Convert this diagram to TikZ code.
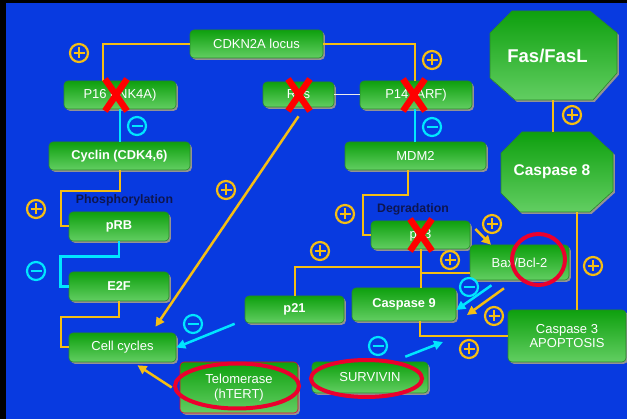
\documentclass[tikz,border=0pt]{standalone}
\usepackage{fontspec}
\setmainfont{Liberation Sans}
\usetikzlibrary{shadows,arrows.meta}
\definecolor{bgblue}{RGB}{8,58,224}
\definecolor{ylw}{RGB}{245,190,20}
\definecolor{cyn}{RGB}{0,230,255}
\definecolor{gtop}{RGB}{14,160,14}
\definecolor{gbot}{RGB}{98,206,98}
\definecolor{gedge}{RGB}{40,135,40}
\definecolor{xred}{RGB}{255,0,0}
\definecolor{ered}{RGB}{235,0,45}
\definecolor{navy}{RGB}{14,22,80}
\tikzset{
  gbox/.style={rounded corners=4pt, top color=gtop, bottom color=gbot, draw=gedge,
    line width=0.6pt, text=white, font=\fontsize{13}{14.5}\selectfont, align=center,
    inner sep=0pt,
    drop shadow={shadow xshift=1.8pt, shadow yshift=-1.8pt, fill=gray!85, opacity=1}},
  bfont/.style={font=\bfseries\fontsize{12.8}{14.5}\selectfont},
  octo/.style={top color=gtop, bottom color=gbot, draw=gedge, line width=0.6pt},
  octoshadow/.style={fill=gray!85},
  ghost/.style={inner sep=0pt, text=white},
  yl/.style={draw=ylw, line width=2pt},
  cy/.style={draw=cyn, line width=2.5pt},
  wl/.style={draw=white!85!gray, line width=1.5pt},
  yarr/.style={draw=ylw, line width=2.5pt, -{Triangle[length=9pt,width=9pt]}},
  carr/.style={draw=cyn, line width=2.5pt, -{Triangle[length=9pt,width=9pt]}},
  redx/.style={draw=xred, line width=6.5pt},
  redring/.style={draw=ered, line width=4pt},
  plussign/.pic={\draw[ylw, line width=2.2pt] (0,0) circle (9pt);
                 \draw[ylw, line width=2.2pt] (-5.5,0) -- (5.5,0) (0,-5.5) -- (0,5.5);},
  minussign/.pic={\draw[cyn, line width=2.2pt] (0,0) circle (9pt);
                  \draw[cyn, line width=2.6pt] (-5.5,0) -- (5.5,0);},
  lbl/.style={text=navy, font=\bfseries\fontsize{12.3}{14}\selectfont, inner sep=0pt}
}
\begin{document}
\begin{tikzpicture}[x=1pt,y=-1pt]
\useasboundingbox (0,0) rectangle (627,419);
\fill[black] (0,0) rectangle (627,419);
\fill[bgblue] (6,3) rectangle (627,419);

% ---------- boxes ----------
\node[gbox, minimum width=133pt, minimum height=28pt] (cdkn) at (256.5,44) {CDKN2A locus};
\node[gbox, minimum width=112pt, minimum height=28pt] (p16) at (120,95) {P16 (INK4A)};
\node[gbox, minimum width=71pt, minimum height=25pt] (ras) at (298.5,94.5) {Ras};
\node[gbox, minimum width=112pt, minimum height=28pt] (p14) at (416,95) {P14 (ARF)};
\node[gbox, bfont, minimum width=141pt, minimum height=28pt] (cyclin) at (119.5,156) {Cyclin (CDK4,6)};
\node[gbox, minimum width=141pt, minimum height=28pt] (mdm2) at (415.5,156) {MDM2};
\node[gbox, bfont, minimum width=100pt, minimum height=29pt] (prb) at (119,226.5) {pRB};
\node[gbox, bfont, minimum width=100pt, minimum height=29pt] (e2f) at (119,286.5) {E2F};
\node[gbox, minimum width=107pt, minimum height=29pt] (cell) at (122.5,347.5) {Cell cycles};
\node[gbox, minimum width=99pt, minimum height=28pt] (p53) at (420.5,235) {p53};
\node[gbox, minimum width=99pt, minimum height=35pt] (bax) at (519.5,262.5) {Bax/Bcl-2};
\node[gbox, bfont, minimum width=99pt, minimum height=27pt] (p21) at (294.5,309.5) {p21};
\node[gbox, bfont, minimum width=104pt, minimum height=33pt] (casp9) at (404,304.5) {Caspase 9};
\node[gbox, minimum width=118pt, minimum height=52pt] (casp3) at (567,336) {Caspase 3\\APOPTOSIS};
\node[gbox, draw=ered, minimum width=118pt, minimum height=51pt] (telo) at (239,387.5) {Telomerase\\(hTERT)};
\node[gbox, minimum width=116pt, minimum height=31pt] (surv) at (370,377.5) {SURVIVIN};

% octagons
\path[octoshadow] (513.8,12.8) -- (591.8,12.8) -- (618.8,34.8) -- (618.8,74.8) -- (594.8,101.8) -- (516.8,101.8) -- (491.8,79.8) -- (491.8,34.8) -- cycle;
\path[octo] (512,11) -- (590,11) -- (617,33) -- (617,73) -- (593,100) -- (515,100) -- (490,78) -- (490,33) -- cycle;
\node[ghost, font=\bfseries\fontsize{18.5}{20}\selectfont, minimum width=127pt, minimum height=89pt] (fas) at (553.5,55.5) {\hspace*{-12pt}Fas/FasL};
\path[octoshadow] (523.8,133.8) -- (591.8,133.8) -- (614.8,154.8) -- (614.8,192.8) -- (591.8,213.8) -- (521.8,213.8) -- (502.8,194.8) -- (502.8,154.8) -- cycle;
\path[octo] (522,132) -- (590,132) -- (613,153) -- (613,191) -- (590,212) -- (520,212) -- (501,193) -- (501,153) -- cycle;
\node[ghost, font=\bfseries\fontsize{15.5}{17}\selectfont, minimum width=112pt, minimum height=80pt] (casp8) at (557,172) {\hspace*{-10pt}Caspase 8};

% ---------- connectors ----------
\draw[yl] (cdkn.west) -| ([xshift=-17pt]p16.north);
\draw[yl] (cdkn.east) -| ([xshift=-1pt]p14.north);
\draw[wl] (ras.east) -- (p14.west |- ras.east);
\draw[cy] (p16.south) -- (p16.south |- cyclin.north);
\draw[cy] ([xshift=-1pt]p14.south) -- ([xshift=-1pt]p14.south |- mdm2.north);
\draw[yl] (cyclin.south) -- ++(0,21) -| ([xshift=-8pt]prb.west) -- (prb.west);
\draw[cy] (prb.south) -- ++(0,15) -| ([xshift=-8pt]e2f.west) -- (e2f.west);
\draw[yl] (e2f.south) -- ++(0,16) -| ([xshift=-8pt]cell.west) -- (cell.west);
\draw[yl] ([xshift=-7.5pt]mdm2.south) -- ++(0,25) -| ([xshift=-8pt]p53.west) -- (p53.west);
\coordinate (baxin) at ([yshift=-10.5pt]bax.west);
\draw[yl] (p53.south) -- (p53.south |- casp9.north);
\draw[yl] (p53.south) -- ++(0,18) -| (p21.north);
\draw[yl] (p53.south |- baxin) -- (baxin);
\coordinate (c9out) at ([xshift=16pt]casp9.south);
\draw[yl] (c9out) |- (casp3.west);
\draw[yl] ([xshift=-0.5pt]fas.south) -- ([xshift=-0.5pt]fas.south |- casp8.north);
\coordinate (c8out) at ([xshift=20pt]casp8.south);
\draw[yl] (c8out) -- (c8out |- casp3.north);

% arrows
\draw[yarr] ([yshift=-9pt]ras.south) -- ([xshift=33pt,yshift=6pt]cell.north);
\draw[yarr] ([xshift=-8pt]telo.west) -- ([xshift=15pt,yshift=-3pt]cell.south);
\draw[carr] ([xshift=-10pt,yshift=-0.5pt]p21.south west) -- (cell.east);
\coordinate (survtip) at (443,342);
\draw[carr] ([xshift=-23pt,yshift=5pt]surv.north east) -- (survtip);
\draw[carr] ([xshift=-28pt,yshift=-5pt]bax.south) -- ([yshift=-5.5pt]casp9.east);
\coordinate (yltip) at (467,315);
\draw[yarr] ([xshift=-15.5pt,yshift=-8pt]bax.south) -- (yltip);
\draw[yarr] ([xshift=5pt,yshift=6pt]p53.east) -- ([xshift=-28.5pt]bax.north);

% labels
\node[lbl] (phos) at (124.5,200) {Phosphorylation};
\node[lbl] (degr) at (413,209) {Degradation};

% plus / minus signs
\foreach \p in {(79,53),(432,60),(572,115),(36,209),(226,190),(345,214),(320,251),(450,260),(492,224),(494,316),(469,349),(593,266)}
  \pic at \p {plussign};
\foreach \p in {(137,126),(432,127),(36,271),(469,287),(193,324),(378,346)}
  \pic at \p {minussign};

% red crosses
\foreach \c in {(116,95),(299,95),(414,95),(421,235)}{
  \draw[redx] \c ++(-11,-16) -- ++(22,32);
  \draw[redx] \c ++(11,-16) -- ++(-22,32);
}

% red rings
\draw[redring] (237,386) ellipse [x radius=62pt, y radius=22.5pt];
\draw[redring] (366.5,378.5) ellipse [x radius=55.5pt, y radius=18.5pt];
\draw[redring] (538.5,259.5) ellipse [x radius=26.5pt, y radius=25.5pt];
\end{tikzpicture}
\end{document}
